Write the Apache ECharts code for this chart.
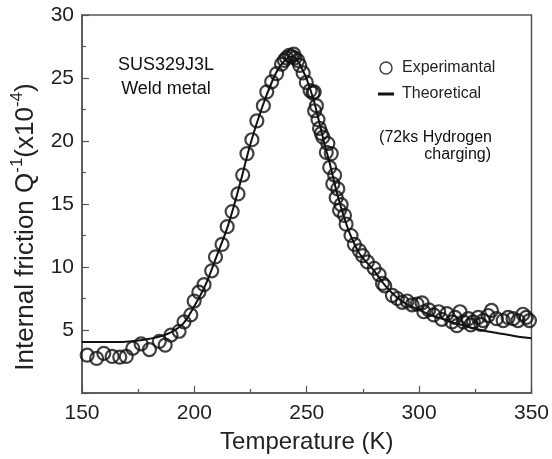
<!DOCTYPE html>
<html>
<head>
<meta charset="utf-8">
<script src="https://cdn.jsdelivr.net/npm/echarts@6/dist/echarts.min.js"></script>
<style>
  html, body { margin: 0; padding: 0; background: #fff; }
  #chart { width: 552px; height: 459px; }
</style>
</head>
<body>
<div id="chart"></div>
<script>
// 实验数据（圆圈）
var expT = [152.3, 156.5, 159.7, 163.4, 166.8, 169.7, 172.6, 176.3, 180.0, 184.4, 187.0, 189.6, 193.2, 195.4, 198.4, 199.9, 202.0, 204.3, 207.7, 209.4, 212.3, 214.6, 216.8, 219.4, 221.5, 223.4, 225.6, 227.8, 230.7, 232.2, 234.4, 236.6, 238.8, 240.0, 241.0, 242.2, 243.2, 244.2, 244.7, 246.0, 246.9, 248.4, 249.8, 251.5, 252.8, 253.3, 253.5, 254.3, 255.0, 255.7, 256.5, 257.2, 258.7, 259.4, 260.2, 260.9, 261.6, 262.4, 263.1, 263.8, 264.6, 265.3, 266.8, 267.5, 269.7, 271.2, 273.4, 274.9, 277.0, 280.0, 282.2, 283.7, 284.7, 288.1, 290.3, 292.5, 294.7, 296.9, 299.1, 301.3, 302.1, 304.3, 306.5, 308.7, 310.1, 312.4, 314.6, 316.0, 316.8, 318.2, 319.7, 321.9, 323.0, 324.1, 326.3, 327.5, 328.5, 330.7, 332.2, 334.4, 337.4, 339.6, 341.8, 344.0, 346.2, 347.7, 349.1];
var expQ = [3.0, 2.75, 3.15, 2.9, 2.85, 2.9, 3.55, 3.9, 3.45, 4.1, 3.8, 4.6, 4.9, 5.65, 6.2, 7.3, 8.0, 8.6, 9.7, 10.8, 11.8, 13.2, 14.4, 15.8, 17.3, 19.0, 20.1, 21.6, 22.8, 23.9, 24.7, 25.35, 26.1, 26.4, 26.6, 26.8, 26.7, 26.9, 26.6, 26.4, 26.0, 25.4, 24.65, 24.0, 23.8, 23.9, 22.4, 22.8, 21.7, 21.0, 20.6, 20.3, 19.1, 19.8, 17.9, 19.0, 16.6, 17.3, 15.5, 16.2, 14.5, 14.95, 14.1, 13.4, 12.5, 11.8, 11.3, 10.9, 10.4, 9.9, 9.4, 8.7, 8.5, 7.75, 7.5, 7.2, 7.3, 7.0, 7.05, 7.15, 6.45, 6.6, 6.2, 6.45, 5.85, 6.3, 5.65, 6.0, 5.35, 6.45, 5.65, 5.9, 5.4, 5.65, 6.0, 5.45, 5.75, 6.15, 6.55, 5.9, 5.75, 6.0, 5.9, 5.75, 6.25, 6.0, 5.75];

// 理论曲线
var theoT = [150, 155, 160, 165, 168, 172, 176, 180, 185, 190, 195, 200, 205, 210, 215, 220, 225, 230, 235, 238, 241, 243, 245, 248, 250, 253, 255, 258, 260, 263, 265, 268, 270, 273, 275, 280, 285, 290, 295, 300, 305, 310, 315, 320, 325, 330, 335, 340, 345, 350];
var theoQ = [4.05, 4.05, 4.05, 4.05, 4.05, 4.1, 4.18, 4.3, 4.5, 4.85, 5.5, 6.9, 8.6, 10.9, 13.3, 16.4, 19.8, 22.6, 24.9, 25.9, 26.5, 26.7, 26.6, 25.7, 24.9, 23.3, 21.9, 19.7, 18.4, 16.2, 14.9, 13.2, 12.3, 11.2, 10.7, 9.7, 8.5, 7.6, 7.0, 6.6, 6.2, 5.9, 5.6, 5.35, 5.1, 4.9, 4.75, 4.6, 4.45, 4.35];

// 坐标轴刻度
var yTicks = [5, 10, 15, 20, 25, 30];
var yMinorTicks = [7.5, 12.5, 17.5, 22.5, 27.5];

var FONT = "'Liberation Sans', Arial, Helvetica, sans-serif";
var AXIS_COLOR = "#555";

var myChart = echarts.init(document.getElementById("chart"), null, { renderer: "canvas" });

var expData = expT.map(function (t, i) { return [t, expQ[i]]; });
var theoData = theoT.map(function (t, i) { return [t, theoQ[i]]; });

var option = {
  animation: false,
  backgroundColor: "#fff",
  grid: {
    left: 82,
    right: 16,
    top: 15,
    bottom: 62,
    show: true,
    borderColor: AXIS_COLOR,
    borderWidth: 1.5
  },
  legend: {
    orient: "vertical",
    left: 373,
    top: 55,
    itemWidth: 16,
    itemHeight: 12,
    itemGap: 10,
    symbolKeepAspect: true,
    textStyle: { fontFamily: FONT, fontSize: 16, color: "#222", padding: [0, 0, 0, 3] },
    data: [
      { name: "Experimantal", icon: "circle", itemStyle: { color: "transparent", borderColor: "#111", borderWidth: 1.5 } },
      { name: "Theoretical", icon: "path://M0,0 L16,0 L16,3 L0,3 Z", itemStyle: { color: "#111" } }
    ]
  },
  xAxis: {
    type: "value",
    min: 150,
    max: 350,
    interval: 50,
    axisLine: { show: true, lineStyle: { color: AXIS_COLOR, width: 1.5 } },
    axisTick: { show: true, inside: true, length: 7, lineStyle: { color: AXIS_COLOR, width: 1.2 } },
    minorTick: { show: true, splitNumber: 2, length: 4, lineStyle: { color: AXIS_COLOR, width: 1.2 } },
    splitLine: { show: false },
    axisLabel: { fontFamily: FONT, fontSize: 21, color: "#222", margin: 10 },
    name: "Temperature (K)",
    nameLocation: "middle",
    nameGap: 37,
    nameTextStyle: { fontFamily: FONT, fontSize: 24, color: "#222" }
  },
  yAxis: [
    {
      type: "value",
      min: 0,
      max: 30,
      interval: 5,
      axisLine: { show: true, lineStyle: { color: AXIS_COLOR, width: 1.5 } },
      axisTick: { show: true, inside: true, length: 7, lineStyle: { color: AXIS_COLOR, width: 1.2 } },
      splitLine: { show: false },
      axisLabel: {
        fontFamily: FONT, fontSize: 21, color: "#222", margin: 8,
        formatter: function (v) { return yTicks.indexOf(v) >= 0 ? String(v) : ""; }
      }
    },
    {
      type: "value",
      min: 0,
      max: 30,
      position: "left",
      axisLine: { show: false },
      axisLabel: { show: false },
      splitLine: { show: false },
      axisTick: {
        show: true, inside: true, length: 4,
        customValues: yMinorTicks,
        lineStyle: { color: AXIS_COLOR, width: 1.2 }
      }
    }
  ],
  graphic: [
    {
      type: "text", x: 166, y: 65,
      style: { text: "SUS329J3L", fontFamily: FONT, fontSize: 18, fill: "#111", align: "center", verticalAlign: "middle" }
    },
    {
      type: "text", x: 166, y: 89,
      style: { text: "Weld metal", fontFamily: FONT, fontSize: 18, fill: "#111", align: "center", verticalAlign: "middle" }
    },
    {
      type: "text", x: 492, y: 137.5,
      style: { text: "(72ks Hydrogen", fontFamily: FONT, fontSize: 16, fill: "#111", align: "right", verticalAlign: "middle" }
    },
    {
      type: "text", x: 491, y: 155,
      style: { text: "charging)", fontFamily: FONT, fontSize: 16, fill: "#111", align: "right", verticalAlign: "middle" }
    },
    {
      // 纵轴标题（带上标）
      type: "text", x: 24, y: 227, rotation: Math.PI / 2,
      style: {
        text: "{b|Internal friction Q}{s|-1}{b|(x10}{s|-4}{b|)}",
        align: "center",
        verticalAlign: "middle",
        fill: "#222",
        rich: {
          b: { fontFamily: FONT, fontSize: 26, lineHeight: 30, fill: "#222", verticalAlign: "bottom" },
          s: { fontFamily: FONT, fontSize: 17, lineHeight: 17, fill: "#222", verticalAlign: "top" }
        }
      }
    }
  ],
  series: [
    {
      name: "Theoretical",
      type: "line",
      data: theoData,
      symbol: "none",
      smooth: 0.35,
      lineStyle: { color: "#111", width: 2 },
      itemStyle: { color: "#111" },
      z: 2
    },
    {
      name: "Experimantal",
      type: "scatter",
      data: expData,
      symbol: "circle",
      symbolSize: 13,
      itemStyle: { color: "rgba(0,0,0,0)", borderColor: "#111", borderWidth: 2.2 },
      z: 3
    }
  ]
};

myChart.setOption(option);
</script>
</body>
</html>
